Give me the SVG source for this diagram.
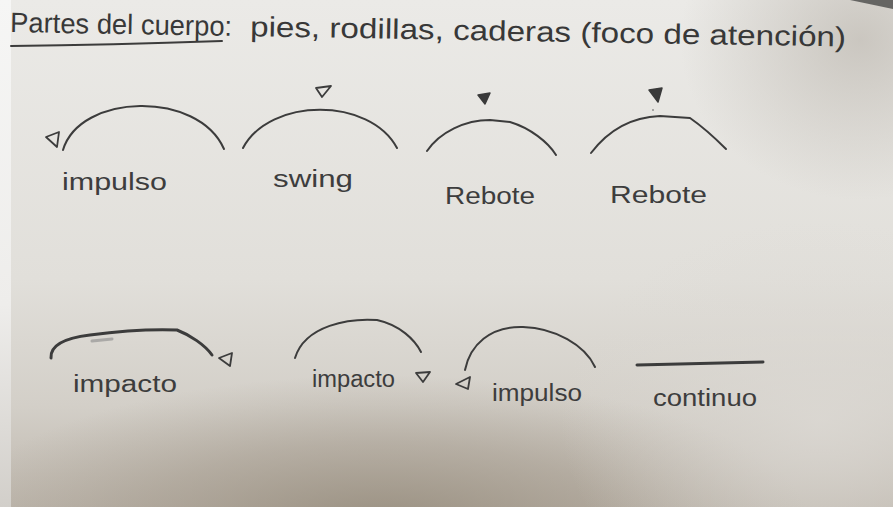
<svg xmlns="http://www.w3.org/2000/svg" width="893" height="507" viewBox="0 0 893 507">
  <defs>
    <linearGradient id="paperV" x1="0" y1="0" x2="0" y2="1">
      <stop offset="0" stop-color="#ebeae7"/>
      <stop offset="0.55" stop-color="#e1dfda"/>
      <stop offset="0.8" stop-color="#d3cfc8"/>
      <stop offset="1" stop-color="#bdb6ac"/>
    </linearGradient>
    <radialGradient id="shadeBottom">
      <stop offset="0" stop-color="#938979" stop-opacity="0.85"/>
      <stop offset="0.55" stop-color="#9e9486" stop-opacity="0.45"/>
      <stop offset="1" stop-color="#a59c8f" stop-opacity="0"/>
    </radialGradient>
    <radialGradient id="shadeTR">
      <stop offset="0" stop-color="#bdb8b0" stop-opacity="0.7"/>
      <stop offset="1" stop-color="#bdb8b0" stop-opacity="0"/>
    </radialGradient>
    <radialGradient id="lightRight">
      <stop offset="0" stop-color="#dcd9d4" stop-opacity="0.8"/>
      <stop offset="1" stop-color="#dcd9d4" stop-opacity="0"/>
    </radialGradient>
    <linearGradient id="margin" x1="0" y1="0" x2="0" y2="1">
      <stop offset="0" stop-color="#f6f6f5"/>
      <stop offset="0.6" stop-color="#eeedeb"/>
      <stop offset="1" stop-color="#d2cfca"/>
    </linearGradient>
    <style>
      .ink { fill: none; stroke: #3c3c3c; stroke-width: 2; stroke-linecap: round; stroke-linejoin: round; }
      .thick { stroke-width: 3; }
      .tri { fill: none; stroke: #3c3c3c; stroke-width: 1.8; stroke-linejoin: round; }
      .solid { fill: #3a3a3a; stroke: #3a3a3a; stroke-width: 1.5; stroke-linejoin: round; }
      .lbl { font-family: "Liberation Sans", "DejaVu Sans", sans-serif; fill: #3d3d3d; font-size: 23px; }
      .title { font-family: "Liberation Sans", "DejaVu Sans", sans-serif; fill: #383838; font-size: 28px; }
    </style>
  </defs>

  <!-- paper background -->
  <rect x="0" y="0" width="893" height="507" fill="url(#paperV)"/>
  <ellipse cx="860" cy="40" rx="180" ry="160" fill="url(#shadeTR)"/>
  <ellipse cx="380" cy="525" rx="430" ry="150" fill="url(#shadeBottom)"/>
  <ellipse cx="820" cy="420" rx="260" ry="200" fill="url(#lightRight)"/>
  <polygon points="850,0 893,0 893,9" fill="#4a4a48" opacity="0.8"/>
  <rect x="0" y="0" width="11" height="507" fill="url(#margin)"/>

  <!-- title -->
  <g id="title">
    <g transform="rotate(1 10 32)">
      <text class="title" x="10" y="32" textLength="222" lengthAdjust="spacingAndGlyphs">Partes del cuerpo:</text>
      <text class="title" x="250" y="32" textLength="596" lengthAdjust="spacingAndGlyphs">pies, rodillas, caderas (foco de atención)</text>
    </g>
    <path class="ink" d="M11,46 Q 110,45 222,41"/>
  </g>

  <!-- row 1 -->
  <g id="impulso-1">
    <path class="ink" d="M63,150 C 80,93 198,90 224,149"/>
    <polygon class="tri" points="46,137 59,132 57,147"/>
    <text class="lbl" x="62" y="190" textLength="105" lengthAdjust="spacingAndGlyphs">impulso</text>
  </g>
  <g id="swing">
    <path class="ink" d="M243,148 C 270,97 370,97 397,148"/>
    <polygon class="tri" points="316,88 331,86 322,97"/>
    <text class="lbl" x="273" y="187" textLength="80" lengthAdjust="spacingAndGlyphs">swing</text>
  </g>
  <g id="rebote-1">
    <path class="ink" d="M427,151 C 440,132 465,120 490,120 L 510,122 C 530,128 548,142 556,155"/>
    <polygon class="solid" points="478,95 490,93 485,104"/>
    <text class="lbl" x="445" y="204" textLength="90" lengthAdjust="spacingAndGlyphs">Rebote</text>
  </g>
  <g id="rebote-2">
    <path class="ink" d="M591,153 C 610,128 635,117 660,116 L 690,118 C 703,127 716,139 726,149"/>
    <polygon class="solid" points="649,90 662,88 658,102"/>
    <circle cx="653" cy="110" r="0.8" fill="#555"/>
    <text class="lbl" x="610" y="203" textLength="97" lengthAdjust="spacingAndGlyphs">Rebote</text>
  </g>

  <!-- row 2 -->
  <g id="impacto-1">
    <path class="ink thick" d="M51,358 C 50,345 65,338 90,335 C 120,331 150,329 177,330 C 190,335 205,345 212,355"/>
    <path d="M92,341 L 112,339" stroke="#8a8a8a" stroke-width="3" stroke-opacity="0.6" stroke-linecap="round"/>
    <polygon class="tri" points="219,358 232,353 230,366"/>
    <text class="lbl" x="73" y="392" textLength="104" lengthAdjust="spacingAndGlyphs">impacto</text>
  </g>
  <g id="impacto-2">
    <path class="ink" d="M295,358 C 305,325 350,318 377,320 C 400,325 415,340 421,352"/>
    <polygon class="tri" points="416,373 430,372 423,382"/>
    <text class="lbl" x="312" y="387" textLength="83" lengthAdjust="spacingAndGlyphs">impacto</text>
  </g>
  <g id="impulso-2">
    <path class="ink" d="M465,370 C 470,345 490,326 523,327 C 555,328 585,345 595,367"/>
    <polygon class="tri" points="456,384 470,377 468,389"/>
    <text class="lbl" x="492" y="401" textLength="90" lengthAdjust="spacingAndGlyphs">impulso</text>
  </g>
  <g id="continuo">
    <path class="ink thick" d="M637,365 L 763,362"/>
    <text class="lbl" x="653" y="406" textLength="104" lengthAdjust="spacingAndGlyphs">continuo</text>
  </g>
</svg>
